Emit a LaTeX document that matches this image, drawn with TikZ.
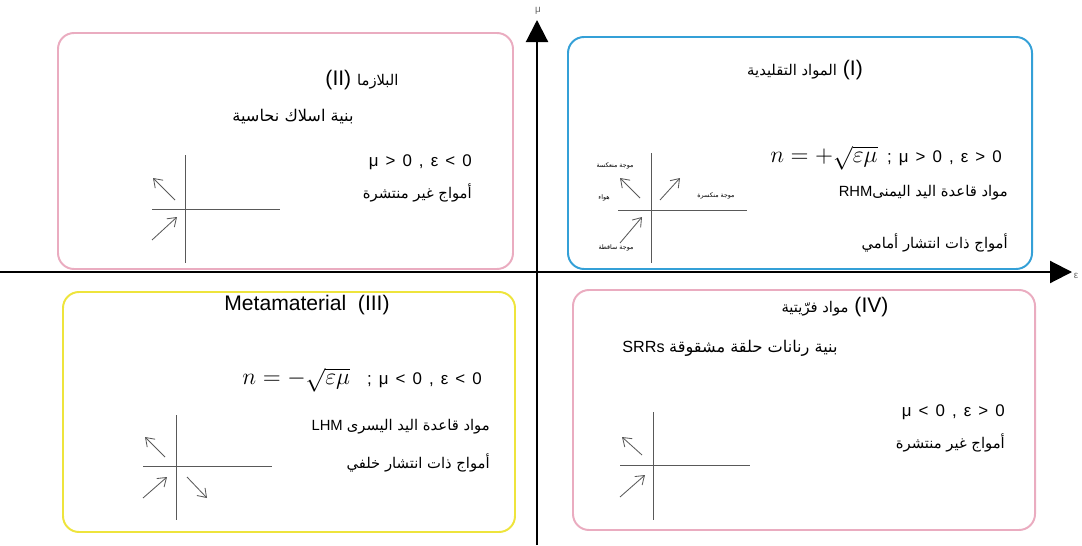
\documentclass[tikz,border=0pt]{standalone}
\usepackage{fontspec}
\setmainfont{Liberation Sans}
\newfontfamily\arabicfont[Script=Arabic]{DejaVu Sans}
\TeXXeTstate=1
\usetikzlibrary{arrows.meta,positioning}
\definecolor{pinkline}{RGB}{234,172,192}
\definecolor{blueline}{RGB}{52,160,215}
\definecolor{yellowline}{RGB}{238,228,60}
\newcommand{\artxt}[1]{{\arabicfont\beginR #1\endR}}
\newcommand{\artitle}[1]{{\fontsize{10.5}{12}\selectfont\arabicfont\beginR #1\endR}}
\newcommand{\gap}{\hspace{0.42em}}

\begin{document}
\begin{tikzpicture}[x=0.025cm,y=-0.025cm,
  axis/.style={line width=1.5pt,-{Triangle[length=5.5mm,width=5.5mm]}},
  panel/.style={line width=1.4pt,rounded corners=4mm},
  cross/.style={draw=black!65,line width=0.6pt},
  wave/.style={draw=black!65,line width=0.6pt,-{Straight Barb[length=2mm,width=2.8mm]}},
  title/.style={font=\fontsize{15}{17}\selectfont,inner sep=0pt},
  subtitle/.style={font=\fontsize{11.5}{13}\selectfont,inner sep=0pt},
  body/.style={font=\fontsize{10.5}{12}\selectfont,anchor=east,inner sep=0pt},
  cond/.style={font=\fontsize{12}{14}\selectfont,anchor=east,inner sep=0pt},
  wavelabel/.style={font=\fontsize{4.5}{5}\selectfont,inner sep=0pt},
  axlabel/.style={font=\fontsize{7}{8}\selectfont,text=black!60,inner sep=1pt}]
\useasboundingbox (0,0) rectangle (1082,545);
% axes
\coordinate (xs) at (0,272); \coordinate (xe) at (1072,272);
\coordinate (ys) at (537,545); \coordinate (ye) at (537,20);
\draw[axis] (xs) -- (xe);
\draw[axis] (ys) -- (ye);
\node[axlabel] (mu) at (538,11) {μ};
\node[axlabel] (eps) at (1076,276) {ε};
% panels
\draw[panel,draw=pinkline] (58,33) rectangle (513,269);
\draw[panel,draw=blueline] (568,37) rectangle (1032,269);
\draw[panel,draw=yellowline] (63,292) rectangle (515,532);
\draw[panel,draw=pinkline] (573,290) rectangle (1035,530);
% (II)
\node[title] (t2) at (362,80) {(II)~\artitle{البلازما}};
\node[subtitle] (s2) at (293,117) {\artxt{بنية اسلاك نحاسية}};
\node[cond] (c2) at (472,162) {μ\gap>\gap0\gap,\gap ε\gap<\gap0};
\node[body] (w2) at (472,193) {\artxt{أمواج غير منتشرة}};
\draw[cross] (185,155) -- (185,263); \draw[cross] (152,209) -- (280,209);
\draw[wave] (175,200) -- (153,178); \draw[wave] (152,240) -- (177,217);
% (I)
\node[title] (t1) at (805,70) {\artitle{المواد التقليدية}~(I)};
\node[cond] (c1) at (1002,158) {\scalebox{1.4}{$n=+\sqrt{\varepsilon\mu}$}\ \ ;\gap μ\gap>\gap0\gap,\gap ε\gap>\gap0};
\node[body] (r1) at (1008,193) {RHM\artxt{مواد قاعدة اليد اليمنى}};
\node[body] (w1) at (1008,243) {\artxt{أمواج ذات انتشار أمامي}};
\draw[cross] (651,153) -- (651,263); \draw[cross] (618,210) -- (747,210);
\draw[wave] (640,198) -- (620,178); \draw[wave] (660,200) -- (680,178);
\draw[wave] (620,243) -- (642,217);
\node[wavelabel] (refl) at (615,166) {\artxt{موجة منعكسة}};
\node[wavelabel] (air) at (604,198) {\artxt{هواء}};
\node[wavelabel] (refr) at (716,196) {\artxt{موجة منكسرة}};
\node[wavelabel] (inc) at (616,248) {\artxt{موجة ساقطة}};
% (III)
\node[title] (t3) at (307,305) {Metamaterial~~(III)};
\node[cond] (c3) at (482,380) {\scalebox{1.4}{$n=-\sqrt{\varepsilon\mu}$}\quad;\gap μ\gap<\gap0\gap,\gap ε\gap<\gap0};
\node[body] (r3) at (490,427) {LHM~\artxt{مواد قاعدة اليد اليسرى}};
\node[body] (w3) at (490,463) {\artxt{أمواج ذات انتشار خلفي}};
\draw[cross] (176,415) -- (176,520); \draw[cross] (143,466) -- (272,466);
\draw[wave] (165,457) -- (145,437); \draw[wave] (143,498) -- (167,477);
\draw[wave] (187,477) -- (207,498);
% (IV)
\node[title] (t4) at (835,307) {\artitle{مواد فرّيتية}~(IV)};
\node[subtitle] (s4) at (730,348) {SRRs~\artxt{بنية رنانات حلقة مشقوقة}};
\node[cond] (c4) at (1005,412) {μ\gap<\gap0\gap,\gap ε\gap>\gap0};
\node[body] (w4) at (1005,443) {\artxt{أمواج غير منتشرة}};
\draw[cross] (653,412) -- (653,520); \draw[cross] (620,465) -- (750,465);
\draw[wave] (642,455) -- (622,437); \draw[wave] (620,497) -- (645,475);
\end{tikzpicture}
\end{document}
